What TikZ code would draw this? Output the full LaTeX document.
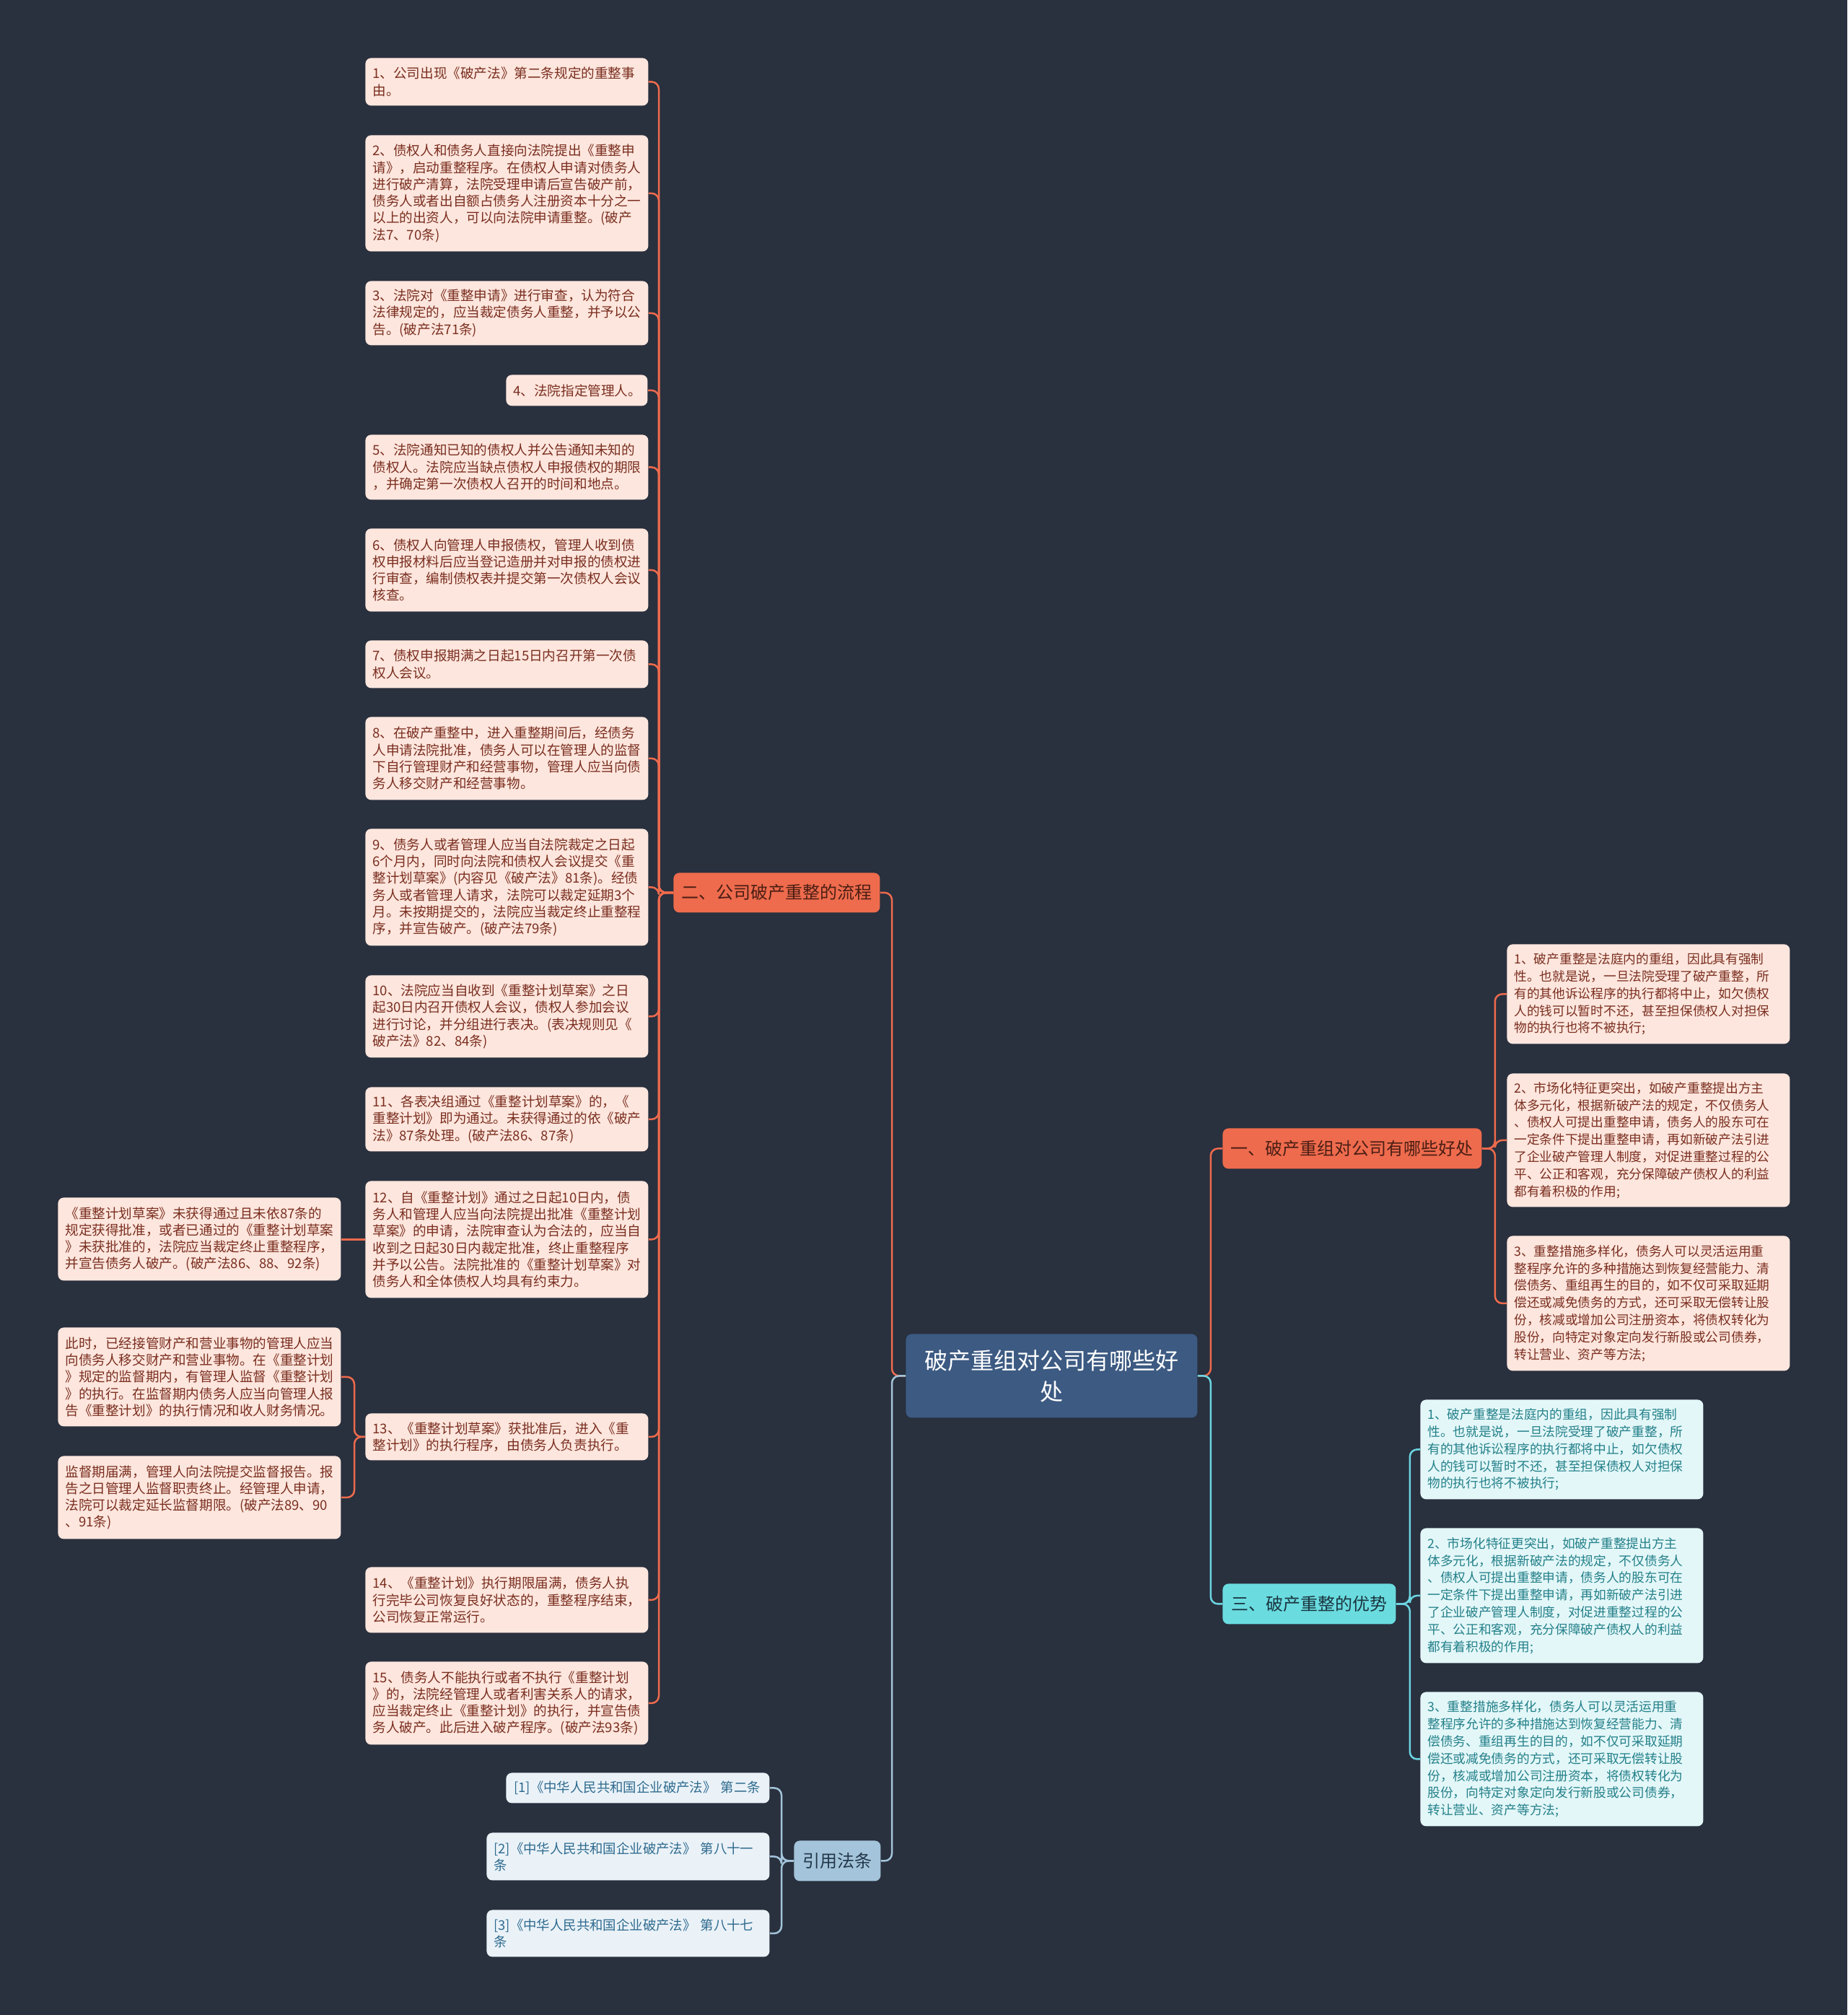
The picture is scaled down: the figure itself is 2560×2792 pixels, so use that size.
\documentclass[tikz,border=0pt]{standalone}
\usepackage{fontspec}
\setmainfont{Noto Sans CJK SC}
\definecolor{bgc}{HTML}{29303E}
\definecolor{ctrfill}{HTML}{3C5A82}
\definecolor{orfill}{HTML}{EE6B4D}
\definecolor{ortext}{HTML}{4B1E14}
\definecolor{orleaf}{HTML}{FDE6DD}
\definecolor{orleaftext}{HTML}{7A2E20}
\definecolor{cyfill}{HTML}{6ADCE0}
\definecolor{cytext}{HTML}{1B3640}
\definecolor{cyleaf}{HTML}{E3F7F8}
\definecolor{cyleaftext}{HTML}{24808A}
\definecolor{cyline}{HTML}{6CD6E2}
\definecolor{rffill}{HTML}{A3C4DA}
\definecolor{rftext}{HTML}{23384A}
\definecolor{rfleaf}{HTML}{EAF2F8}
\definecolor{rfleaftext}{HTML}{2E6A8E}
\tikzset{
  box/.style={anchor=north west, rounded corners=4pt, inner xsep=5pt, inner ysep=3pt, align=left},
  leafO/.style={box, fill=orleaf, text=orleaftext, text width=186pt, font=\fontsize{9.3pt}{11.65pt}\selectfont},
  leafR/.style={box, fill=orleaf, text=orleaftext, text width=186pt, font=\fontsize{8.85pt}{11.9pt}\selectfont},
  leafC/.style={box, fill=cyleaf, text=cyleaftext, text width=186pt, font=\fontsize{8.85pt}{11.9pt}\selectfont},
  leafF/.style={box, fill=rfleaf, text=rfleaftext, text width=186pt, font=\fontsize{9.2pt}{11.5pt}\selectfont},
  branch/.style={anchor=north west, rounded corners=4pt, inner sep=0pt, align=center, font=\fontsize{12pt}{14pt}\selectfont},
  cO/.style={draw=orfill, line width=1.25pt, rounded corners=5pt},
  cC/.style={draw=cyline, line width=1.25pt, rounded corners=5pt},
  cF/.style={draw=rffill, line width=1.25pt, rounded corners=5pt}
}
\begin{document}
\begin{tikzpicture}[x=0.5pt,y=-0.5pt]
\fill[bgc] (0,0) rectangle (2560,2792);
\useasboundingbox (0,0) rectangle (2560,2792);

% central
\node[anchor=north west, rounded corners=4pt, fill=ctrfill, text=white, minimum width=202pt, minimum height=58pt, inner sep=0pt, align=center, font=\fontsize{16pt}{21.5pt}\selectfont] (ctr) at (1255,1848) {破产重组对公司有哪些好\\处};

% branches
\node[branch, fill=orfill, text=ortext, minimum width=143pt, minimum height=27.5pt] (br2) at (933,1209) {二、公司破产重整的流程};
\node[branch, fill=orfill, text=ortext, minimum width=179.5pt, minimum height=28pt] (br1) at (1694,1563) {一、破产重组对公司有哪些好处};
\node[branch, fill=cyfill, text=cytext, minimum width=120pt, minimum height=28pt] (br3) at (1694,2194) {三、破产重整的优势};
\node[branch, fill=rffill, text=rftext, minimum width=60pt, minimum height=28pt] (br4) at (1100,2550) {引用法条};

% left leaves
\node[leafO, minimum height=33pt] (b1) at (506,80) {1、公司出现《破产法》第二条规定的重整事\\由。};
\node[leafO, minimum height=80.5pt] (b2) at (506,187) {2、债权人和债务人直接向法院提出《重整申\\请》，启动重整程序。在债权人申请对债务人\\进行破产清算，法院受理申请后宣告破产前，\\债务人或者出自额占债务人注册资本十分之一\\以上的出资人，可以向法院申请重整。(破产\\法7、70条)};
\node[leafO, minimum height=44.5pt] (b3) at (506,389) {3、法院对《重整申请》进行审查，认为符合\\法律规定的，应当裁定债务人重整，并予以公\\告。(破产法71条)};
\node[leafO, text width=88pt, minimum height=21.5pt] (b4) at (701,519) {4、法院指定管理人。};
\node[leafO, minimum height=45pt] (b5) at (506,602) {5、法院通知已知的债权人并公告通知未知的\\债权人。法院应当缺点债权人申报债权的期限\\，并确定第一次债权人召开的时间和地点。};
\node[leafO, minimum height=57.5pt] (b6) at (506,732) {6、债权人向管理人申报债权，管理人收到债\\权申报材料后应当登记造册并对申报的债权进\\行审查，编制债权表并提交第一次债权人会议\\核查。};
\node[leafO, minimum height=33pt] (b7) at (506,887) {7、债权申报期满之日起15日内召开第一次债\\权人会议。};
\node[leafO, minimum height=57.5pt] (b8) at (506,993) {8、在破产重整中，进入重整期间后，经债务\\人申请法院批准，债务人可以在管理人的监督\\下自行管理财产和经营事物，管理人应当向债\\务人移交财产和经营事物。};
\node[leafO, minimum height=81pt] (b9) at (506,1148) {9、债务人或者管理人应当自法院裁定之日起\\6个月内，同时向法院和债权人会议提交《重\\整计划草案》(内容见《破产法》81条)。经债\\务人或者管理人请求，法院可以裁定延期3个\\月。未按期提交的，法院应当裁定终止重整程\\序，并宣告破产。(破产法79条)};
\node[leafO, minimum height=57pt] (b10) at (506,1351) {10、法院应当自收到《重整计划草案》之日\\起30日内召开债权人会议，债权人参加会议\\进行讨论，并分组进行表决。(表决规则见《\\破产法》82、84条)};
\node[leafO, minimum height=44.5pt] (b11) at (506,1506) {11、各表决组通过《重整计划草案》的，《\\重整计划》即为通过。未获得通过的依《破产\\法》87条处理。(破产法86、87条)};
\node[leafO, minimum height=81pt] (b12) at (506,1636) {12、自《重整计划》通过之日起10日内，债\\务人和管理人应当向法院提出批准《重整计划\\草案》的申请，法院审查认为合法的，应当自\\收到之日起30日内裁定批准，终止重整程序\\并予以公告。法院批准的《重整计划草案》对\\债务人和全体债权人均具有约束力。};
\node[leafO, minimum height=32.5pt] (b13) at (506,1958) {13、《重整计划草案》获批准后，进入《重\\整计划》的执行程序，由债务人负责执行。};
\node[leafO, minimum height=45.5pt] (b14) at (506,2171) {14、《重整计划》执行期限届满，债务人执\\行完毕公司恢复良好状态的，重整程序结束，\\公司恢复正常运行。};
\node[leafO, minimum height=57.5pt] (b15) at (506,2302) {15、债务人不能执行或者不执行《重整计划\\》的，法院经管理人或者利害关系人的请求，\\应当裁定终止《重整计划》的执行，并宣告债\\务人破产。此后进入破产程序。(破产法93条)};

% sub leaves
\node[leafO, minimum height=57.5pt] (sA) at (80,1659) {《重整计划草案》未获得通过且未依87条的\\规定获得批准，或者已通过的《重整计划草案\\》未获批准的，法院应当裁定终止重整程序，\\并宣告债务人破产。(破产法86、88、92条)};
\node[leafO, minimum height=68.5pt] (sB) at (80,1839) {此时，已经接管财产和营业事物的管理人应当\\向债务人移交财产和营业事物。在《重整计划\\》规定的监督期内，有管理人监督《重整计划\\》的执行。在监督期内债务人应当向管理人报\\告《重整计划》的执行情况和收人财务情况。};
\node[leafO, minimum height=57.5pt] (sC) at (80,2017) {监督期届满，管理人向法院提交监督报告。报\\告之日管理人监督职责终止。经管理人申请，\\法院可以裁定延长监督期限。(破产法89、90\\、91条)};

% right leaves (一)
\node[leafR, minimum height=69pt] (r1) at (2088,1308) {1、破产重整是法庭内的重组，因此具有强制\\性。也就是说，一旦法院受理了破产重整，所\\有的其他诉讼程序的执行都将中止，如欠债权\\人的钱可以暂时不还，甚至担保债权人对担保\\物的执行也将不被执行;};
\node[leafR, minimum height=92.5pt] (r2) at (2088,1487) {2、市场化特征更突出，如破产重整提出方主\\体多元化，根据新破产法的规定，不仅债务人\\、债权人可提出重整申请，债务人的股东可在\\一定条件下提出重整申请，再如新破产法引进\\了企业破产管理人制度，对促进重整过程的公\\平、公正和客观，充分保障破产债权人的利益\\都有着积极的作用;};
\node[leafR, minimum height=93.5pt] (r3) at (2088,1712) {3、重整措施多样化，债务人可以灵活运用重\\整程序允许的多种措施达到恢复经营能力、清\\偿债务、重组再生的目的，如不仅可采取延期\\偿还或减免债务的方式，还可采取无偿转让股\\份，核减或增加公司注册资本，将债权转化为\\股份，向特定对象定向发行新股或公司债券，\\转让营业、资产等方法;};

% right leaves (三)
\node[leafC, minimum height=69pt] (c1) at (1968,1939) {1、破产重整是法庭内的重组，因此具有强制\\性。也就是说，一旦法院受理了破产重整，所\\有的其他诉讼程序的执行都将中止，如欠债权\\人的钱可以暂时不还，甚至担保债权人对担保\\物的执行也将不被执行;};
\node[leafC, minimum height=93.5pt] (c2) at (1968,2117) {2、市场化特征更突出，如破产重整提出方主\\体多元化，根据新破产法的规定，不仅债务人\\、债权人可提出重整申请，债务人的股东可在\\一定条件下提出重整申请，再如新破产法引进\\了企业破产管理人制度，对促进重整过程的公\\平、公正和客观，充分保障破产债权人的利益\\都有着积极的作用;};
\node[leafC, minimum height=93pt] (c3) at (1968,2344) {3、重整措施多样化，债务人可以灵活运用重\\整程序允许的多种措施达到恢复经营能力、清\\偿债务、重组再生的目的，如不仅可采取延期\\偿还或减免债务的方式，还可采取无偿转让股\\份，核减或增加公司注册资本，将债权转化为\\股份，向特定对象定向发行新股或公司债券，\\转让营业、资产等方法;};

% references
\node[leafF, text width=171.5pt, inner xsep=5.5pt, minimum height=21pt] (f1) at (701,2456) {[1]《中华人民共和国企业破产法》 第二条};
\node[leafF, minimum height=33pt] (f2) at (674,2539) {[2]《中华人民共和国企业破产法》 第八十一\\条};
\node[leafF, minimum height=32.5pt] (f3) at (674,2646) {[3]《中华人民共和国企业破产法》 第八十七\\条};

% connectors: center to branches
\draw[cO] (ctr.west) -- ++(-19,0) |- (br2.east);
\draw[cF] (ctr.west) -- ++(-19,0) |- (br4.east);
\draw[cO] (ctr.east) -- ++(18,0) |- (br1.west);
\draw[cC] (ctr.east) -- ++(18,0) |- (br3.west);

% branch 二 to leaves
\foreach \n in {b1,b2,b3,b4,b5,b6,b7,b8,b9,b10,b11,b12,b13,b14,b15}
  \draw[cO] (br2.west) -- ++(-20,0) |- (\n.east);
\draw[cO] (b12.west) -- (b12.west -| sA.east);
\draw[cO] (b13.west) -- ++(-15,0) |- (sB.east);
\draw[cO] (b13.west) -- ++(-15,0) |- (sC.east);

% branch 一
\foreach \n in {r1,r2,r3}
  \draw[cO] (br1.east) -- ++(18,0) |- (\n.west);
% branch 三
\foreach \n in {c1,c2,c3}
  \draw[cC] (br3.east) -- ++(19,0) |- (\n.west);
% references
\foreach \n in {f1,f2,f3}
  \draw[cF] (br4.west) -- ++(-17,0) |- (\n.east);
\end{tikzpicture}
\end{document}
